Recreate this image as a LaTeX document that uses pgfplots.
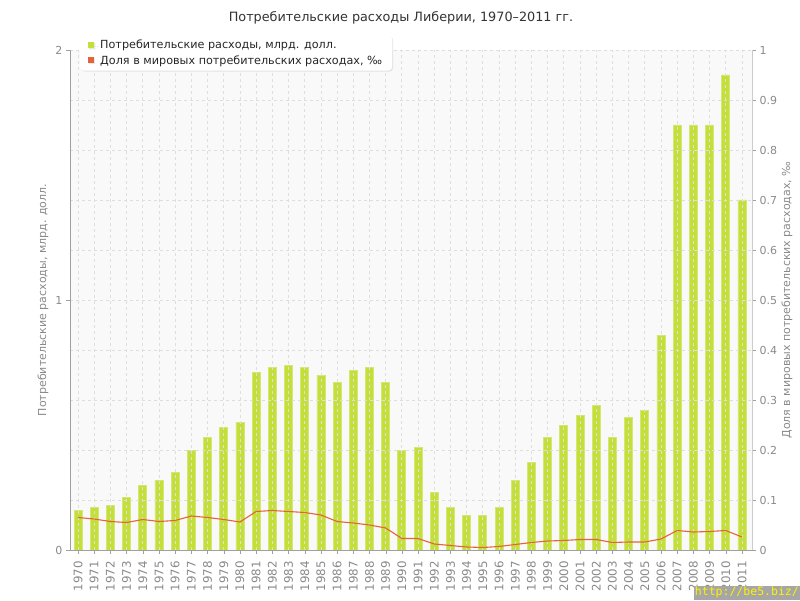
\documentclass[border=0pt]{standalone}
\usepackage{pgfplots}
\pgfplotsset{compat=1.18}
\usepackage{pgfplotstable}
\usepackage{fontspec}
\setmainfont{DejaVu Sans}
\newfontfamily\monofont{DejaVu Sans Mono}
\usetikzlibrary{shadows}
\definecolor{barfill}{HTML}{C5DF3A}
\definecolor{baredge}{HTML}{D3E872}
\definecolor{linecol}{HTML}{E5633A}
\definecolor{txtgray}{HTML}{8A8A8A}
\definecolor{axgray}{HTML}{A0A0A0}
\definecolor{gridgray}{HTML}{DEDEDE}
\definecolor{plotbg}{HTML}{F9F9F9}
\pgfplotstableread{
x year val share
0 1970 0.16 0.065
1 1971 0.17 0.062
2 1972 0.18 0.057
3 1973 0.21 0.055
4 1974 0.26 0.061
5 1975 0.28 0.057
6 1976 0.31 0.059
7 1977 0.40 0.068
8 1978 0.45 0.065
9 1979 0.49 0.061
10 1980 0.51 0.056
11 1981 0.71 0.077
12 1982 0.73 0.079
13 1983 0.74 0.077
14 1984 0.73 0.075
15 1985 0.70 0.070
16 1986 0.67 0.057
17 1987 0.72 0.054
18 1988 0.73 0.050
19 1989 0.67 0.044
20 1990 0.40 0.023
21 1991 0.41 0.023
22 1992 0.23 0.012
23 1993 0.17 0.009
24 1994 0.14 0.006
25 1995 0.14 0.005
26 1996 0.17 0.007
27 1997 0.28 0.011
28 1998 0.35 0.015
29 1999 0.45 0.018
30 2000 0.50 0.019
31 2001 0.54 0.021
32 2002 0.58 0.021
33 2003 0.45 0.015
34 2004 0.53 0.016
35 2005 0.56 0.016
36 2006 0.86 0.022
37 2007 1.70 0.039
38 2008 1.70 0.036
39 2009 1.70 0.037
40 2010 1.90 0.039
41 2011 1.40 0.026
}\datatable
\begin{document}
\begin{tikzpicture}
\useasboundingbox (0pt,0pt) rectangle (800pt,600pt);
\pgfplotsset{
  common/.style={
    at={(70pt,50pt)}, anchor=south west,
    scale only axis, width=682pt, height=500pt,
    xmin=-0.494, xmax=41.62,
    tick align=outside,
    major tick length=4pt,
    axis line style={axgray},
    tick style={axgray},
    ticklabel style={txtgray, font=\fontsize{11}{13}\selectfont},
    label style={txtgray, font=\fontsize{11}{13}\selectfont},
    /pgf/number format/assume math mode=true,
  }
}
\begin{axis}[common,
  ymin=0, ymax=2,
  axis background/.style={fill=plotbg},
  axis y line*=left, axis x line*=bottom,
  ytick={0,1,2},
  minor ytick={0.2,0.4,0.6,0.8,1.2,1.4,1.6,1.8},
  minor tick length=0pt,
  xtick={0,...,41},
  xticklabels from table={\datatable}{year},
  x tick label style={rotate=90, anchor=east, inner xsep=7pt, font=\fontsize{11.8}{13}\selectfont},
  xmajorgrids, ymajorgrids, yminorgrids,
  grid style={dashed, gridgray, line width=0.8pt},
  minor grid style={dashed, gridgray, line width=0.8pt},
  axis on top,
  ylabel={Потребительские расходы, млрд. долл.},
  ylabel style={at={(axis description cs:-0.0396,0.5)}, anchor=center},
  legend style={at={(axis description cs:0.0147,1.03)}, anchor=north west,
    draw=none, fill=white, rounded corners=4pt,
    drop shadow={opacity=0.18, shadow xshift=1pt, shadow yshift=-1pt},
    font=\fontsize{11.2}{13}\selectfont, text=black!85,
    inner xsep=8pt, inner ysep=3pt, row sep=1pt},
  legend cell align=left,
]
\addplot[ybar, bar width=8pt, fill=barfill, draw=baredge, line width=0.8pt,
  legend image code/.code={\path[draw=none, fill=none] (0pt,0pt) -- (10pt,0pt); \fill[barfill, draw=none, sharp corners] (0pt,-3pt) rectangle (6pt,3pt);}]
  table[x=x, y=val]{\datatable};
\addlegendentry{Потребительские расходы, млрд. долл.}
\addlegendimage{draw=none, legend image code/.code={\path[draw=none, fill=none] (0pt,0pt) -- (10pt,0pt); \fill[linecol, draw=none, sharp corners] (0pt,-3pt) rectangle (6pt,3pt);}}
\addlegendentry{Доля в мировых потребительских расходах, ‰}
\end{axis}
\begin{axis}[common,
  ymin=0, ymax=1,
  axis y line*=right, axis x line=none,
  ytick={0,0.1,...,1},
  yticklabel style={/pgf/number format/fixed},
  ylabel={Доля в мировых потребительских расходах, ‰},
  ylabel style={at={(axis description cs:1.0513,0.5)}, anchor=center, rotate=0},
  axis line style={gridgray!80!gray},
]
\addplot[linecol, line width=1.1pt, mark=none] table[x=x, y=share]{\datatable};
\end{axis}
\node[font=\fontsize{12.8}{15}\selectfont, text=black!80] at (401pt,582pt) {Потребительские расходы Либерии, 1970–2011 гг.};
\node[fill=black!35, text=yellow, inner xsep=1pt, inner ysep=1.5pt, anchor=south east, font=\monofont\fontsize{11.5}{13}\selectfont] at (800pt,0pt) {http://be5.biz/};
\end{tikzpicture}
\end{document}
